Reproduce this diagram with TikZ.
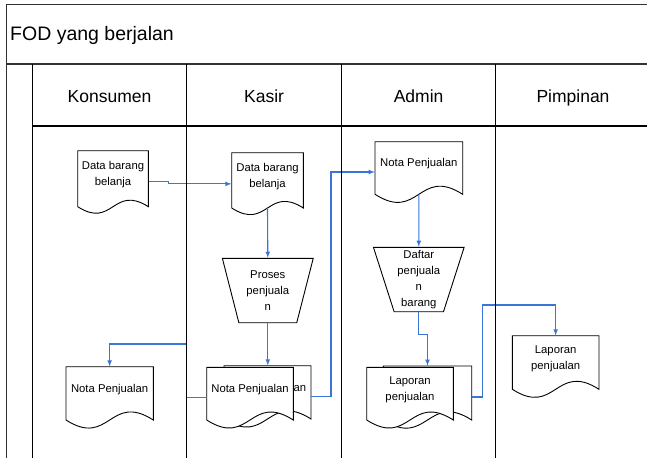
\documentclass[tikz,border=0pt]{standalone}
\usepackage{fontspec}
\setmainfont{Liberation Sans}
\usepackage{tikz}
\usetikzlibrary{shapes.geometric}
\definecolor{flowblue}{RGB}{58,118,214}
\tikzstyle{arrow} = [-latex, flowblue, line width=1.1pt]
\tikzstyle{laneline} = [line width=1.2pt, black]
\tikzstyle{docline} = [draw=black, fill=white, line width=0.9pt]
\tikzstyle{docbox} = [rectangle, inner sep=0pt]
\tikzstyle{doctext} = [align=center, inner sep=0pt, font=\fontsize{11.3}{16}\selectfont]
\tikzstyle{manual} = [trapezium, trapezium stretches=true, trapezium left angle=73, trapezium right angle=73, shape border rotate=180, minimum width=91pt, minimum height=64.4pt, inner sep=0pt, draw=black, fill=white, line width=0.9pt, align=center, font=\fontsize{11.3}{16}\selectfont]
\tikzstyle{lanehead} = [anchor=base, inner sep=0pt, font=\fontsize{17.5}{20}\selectfont]
% dokumen: nama, kiri, atas, lebar, tinggi, teks
\newcommand{\dokumen}[6]{%
  \draw[docline] (#2,#3) -- ({#2+#4},#3) -- ({#2+#4},{#3+#5})
    .. controls ({#2+0.5*#4},{#3+#5-0.32*#4}) and ({#2+0.5*#4},{#3+#5+0.32*#4}) .. (#2,{#3+#5}) -- cycle;
  \node[docbox, minimum width=#4pt, minimum height=#5pt] (#1) at ({#2+0.5*#4},{#3+0.5*#5}) {};
  \node[doctext] (#1-teks) at ({#2+0.5*#4},{#3+0.5*#5-4}) {#6};
}

\begin{document}
\begin{tikzpicture}[x=1pt, y=-1pt]
	\useasboundingbox (0,0) rectangle (647,458);

	\node[anchor=base west, inner sep=0pt, font=\fontsize{19.5}{22}\selectfont] (judul) at (10,40.7) {FOD yang berjalan};
	\node[lanehead] (konsumen) at (109.5,102.3) {Konsumen};
	\node[lanehead] (kasir) at (264.1,102.3) {Kasir};
	\node[lanehead] (admin) at (418.6,102.3) {Admin};
	\node[lanehead] (pimpinan) at (573,102.3) {Pimpinan};

	% dokumen dan proses
	\dokumen{konsData}{77.7}{150.7}{70.6}{56}{Data barang\\belanja}
	\dokumen{kasirData}{231.7}{152.7}{71.6}{55.3}{Data barang\\belanja}
	\node[manual] (proses) at (267.8,290.5) {Proses\\penjuala\\n};
	\dokumen{kasirNotaB}{224}{365.7}{87}{53.3}{Nota Penjualan}
	\dokumen{kasirNota}{206.7}{367.3}{86.6}{52.7}{Nota Penjualan}
	\dokumen{konsNota}{66}{366.7}{87.3}{53.3}{Nota Penjualan}
	\dokumen{adminNota}{375}{141.7}{87.7}{52.6}{Nota Penjualan}
	\node[manual] (daftar) at (418.8,279.5) {Daftar\\penjuala\\n\\barang};
	\dokumen{adminLapB}{383.3}{366}{88.4}{54}{}
	\dokumen{adminLap}{366.7}{367.3}{86.6}{52.7}{Laporan\\penjualan}
	\dokumen{pimLap}{512.3}{335.7}{86.7}{53.6}{Laporan\\penjualan}

	% alur
	\draw[arrow] ([yshift=-3pt]konsData.east) -- ++(20,0) |- ([yshift=-3.5pt]kasirData.west);
	\draw[arrow] (kasirData.south) -- (proses.north);
	\draw[arrow] (proses.south) -- (proses.south |- kasirNotaB.north);
	\draw[arrow] ([yshift=-4pt]kasirNota.west) -| (186.7,344) -| (konsNota.north);
	\draw[arrow] ([yshift=-4pt]kasirNotaB.east) -| (331,172) -- ([yshift=-4pt]adminNota.west);
	\draw[arrow] (adminNota.south) -- (daftar.north);
	\draw[arrow] (daftar.south) -- ++(0,22.3) -| (adminLapB.north);
	\draw[arrow] ([yshift=-4pt]adminLapB.east) -| (482.3,305) -| (pimLap.north);

	% garis jalur
	\draw[laneline, line width=0.9pt, black!80] (6.7,458) -- (6.7,4.5) -- (647,4.5);
	\draw[line width=2pt, black!80] (6.7,64.3) -- (647,64.3);
	\draw[laneline] (32.3,126) -- (647,126);
	\draw[laneline] (32.3,64.3) -- (32.3,458);
	\draw[laneline] (186.7,64.3) -- (186.7,458);
	\draw[laneline] (341.5,64.3) -- (341.5,458);
	\draw[laneline] (495.7,64.3) -- (495.7,458);
\end{tikzpicture}
\end{document}
